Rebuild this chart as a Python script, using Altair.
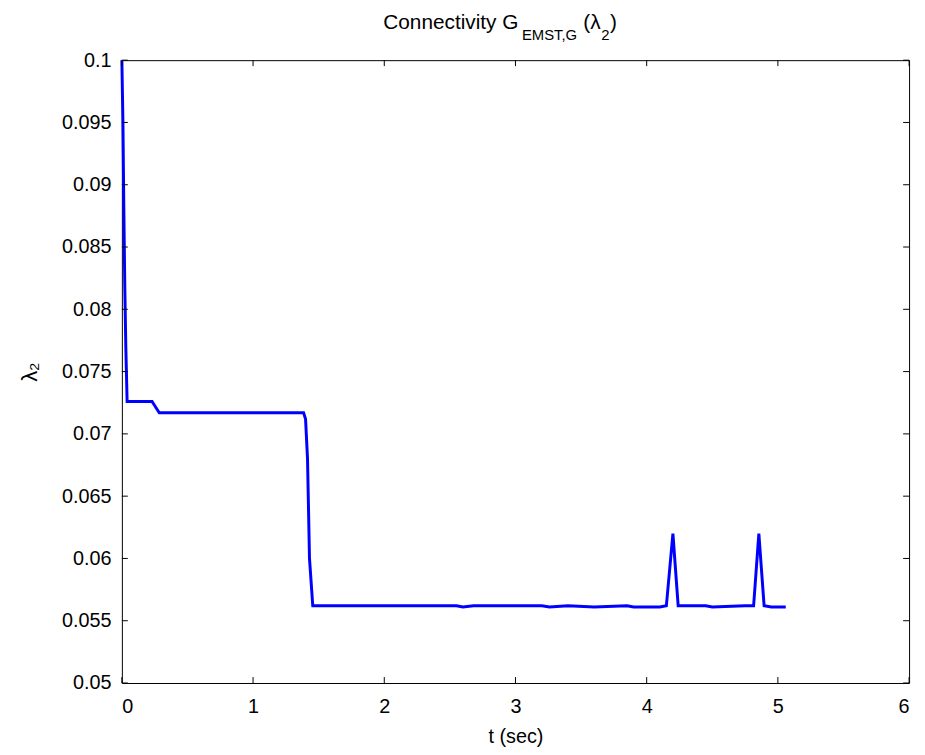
import altair as alt
import pandas as pd

# ---- data ----
t_sec = [0.000, 0.008, 0.015, 0.022, 0.030, 0.040, 0.230, 0.285, 1.385, 1.400,
         1.415, 1.430, 1.455, 2.550, 2.600, 2.680, 2.750, 3.200, 3.260, 3.400,
         3.600, 3.850, 3.900, 4.100, 4.150, 4.200, 4.240, 4.300, 4.450, 4.500,
         4.750, 4.815, 4.855, 4.895, 4.950, 5.060]
lambda2 = [0.1000, 0.0950, 0.0880, 0.0820, 0.0770, 0.0726, 0.0726, 0.0717, 0.0717, 0.0712,
           0.0680, 0.0600, 0.0562, 0.0562, 0.0561, 0.0562, 0.0562, 0.0562, 0.0561, 0.0562,
           0.0561, 0.0562, 0.0561, 0.0561, 0.0562, 0.0620, 0.0562, 0.0562, 0.0562, 0.0561,
           0.0562, 0.0562, 0.0620, 0.0562, 0.0561, 0.0561]
x_ticks = [0, 1, 2, 3, 4, 5, 6]
y_ticks = [0.05, 0.055, 0.06, 0.065, 0.07, 0.075, 0.08, 0.085, 0.09, 0.095, 0.1]

title_parts = ["Connectivity G", "EMST,G", "(λ", "2", ")"]

W, H = 795, 629
FONT = "Liberation Sans"
FS = 20

df = pd.DataFrame({"t": t_sec, "l": lambda2, "i": list(range(len(t_sec)))})
xs = alt.Scale(domain=[0, 6], nice=False, zero=False)
ys = alt.Scale(domain=[0.05, 0.1], nice=False, zero=False)
xaxis = alt.Axis(values=x_ticks, title="t (sec)", labelPadding=14, titlePadding=10)
yaxis = alt.Axis(values=y_ticks, format="~g", title="λ₂", labelPadding=11,
                 titlePadding=20, titleFontSize=22)

line = alt.Chart(df).mark_line(color="#0000ff", strokeWidth=3).encode(
    x=alt.X("t:Q", scale=xs, axis=xaxis),
    y=alt.Y("l:Q", scale=ys, axis=yaxis),
    order="i:Q",
)

xt = pd.DataFrame({"v": x_ticks})
yt = pd.DataFrame({"v": y_ticks})
TL = 6
tick_b = alt.Chart(xt).mark_rule(color="black", strokeWidth=1).encode(
    x=alt.X("v:Q", scale=xs, axis=xaxis), y=alt.value(H), y2=alt.value(H - TL))
tick_t = alt.Chart(xt).mark_rule(color="black", strokeWidth=1).encode(
    x=alt.X("v:Q", scale=xs, axis=xaxis), y=alt.value(0), y2=alt.value(TL))
tick_l = alt.Chart(yt).mark_rule(color="black", strokeWidth=1).encode(
    y=alt.Y("v:Q", scale=ys, axis=yaxis), x=alt.value(0), x2=alt.value(TL))
tick_r = alt.Chart(yt).mark_rule(color="black", strokeWidth=1).encode(
    y=alt.Y("v:Q", scale=ys, axis=yaxis), x=alt.value(W), x2=alt.value(W - TL))

tdf = pd.DataFrame({"s": title_parts})
def tpart(idx, x, y, size):
    return alt.Chart(tdf.iloc[[idx]]).mark_text(
        font=FONT, fontSize=size, align="left", baseline="alphabetic", color="black"
    ).encode(text="s:N", x=alt.value(x), y=alt.value(y))

title = (tpart(0, 264, -31, 21) + tpart(1, 404, -20, 15) + tpart(2, 466, -31, 21)
         + tpart(3, 484, -20, 15) + tpart(4, 493, -31, 21))

chart = alt.layer(line, tick_b, tick_t, tick_l, tick_r, title).properties(
    width=W, height=H,
    autosize=alt.AutoSizeParams(type="none"),
    padding={"left": 115, "top": 49, "right": 8, "bottom": 68},
    background="white",
).configure_view(stroke="black", strokeWidth=1).configure_axis(
    labelFont=FONT, labelFontSize=FS, labelColor="black",
    titleFont=FONT, titleFontSize=FS, titleColor="black", titleFontWeight="normal",
    ticks=False, tickSize=0, domain=False, grid=False,
)

chart.save("out.html", embed_options={"renderer": "svg", "actions": False})
